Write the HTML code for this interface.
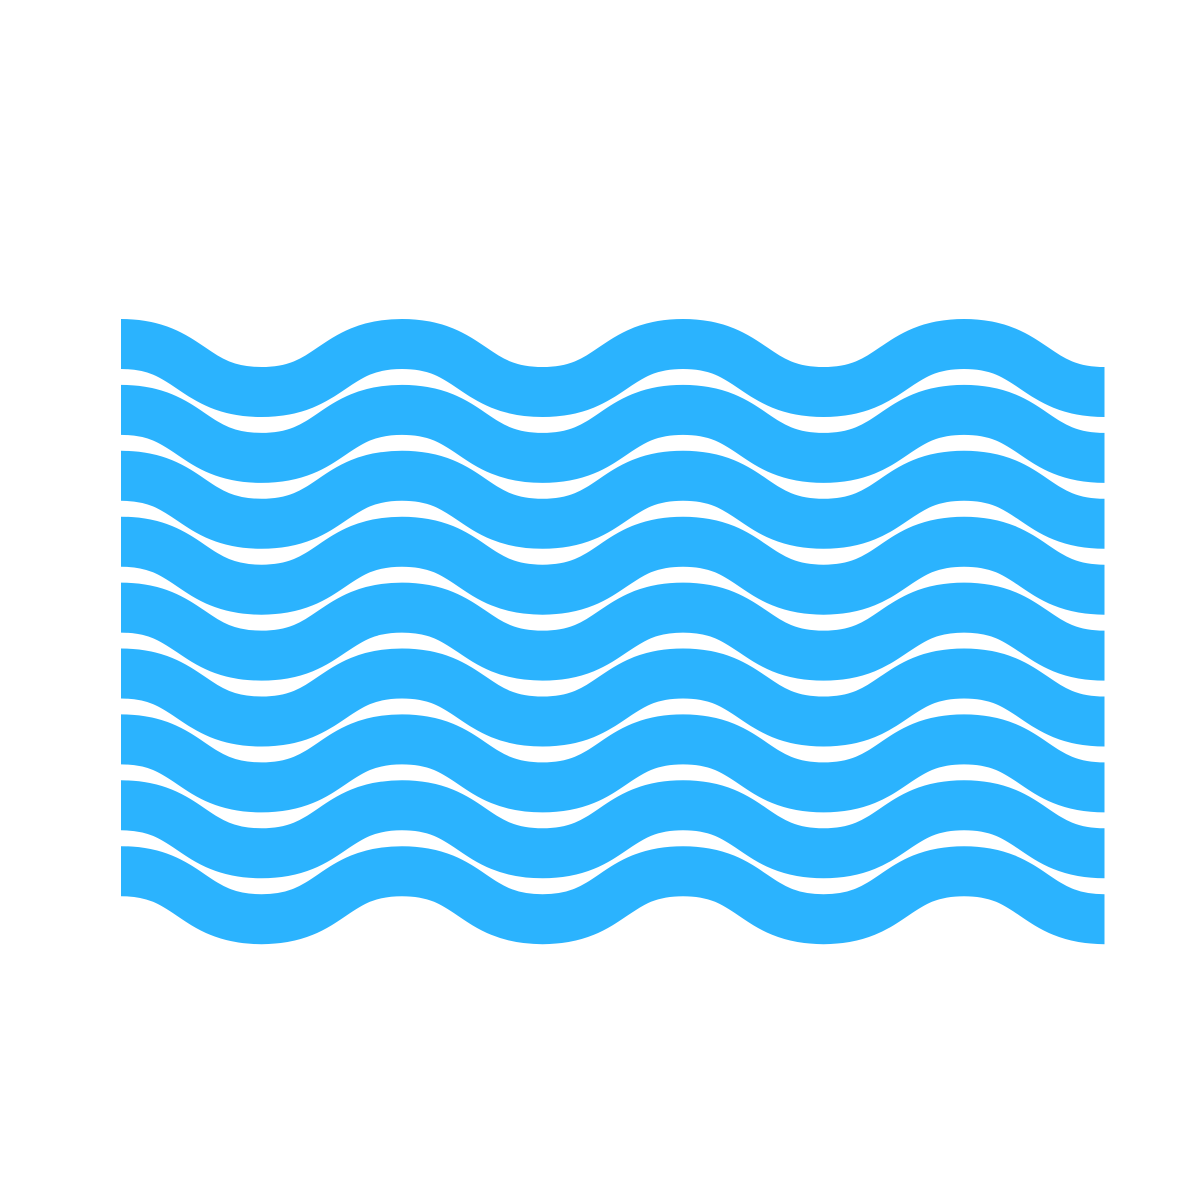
<!DOCTYPE html>
<html><head><meta charset="utf-8"><style>html,body{margin:0;padding:0;background:#fff;width:1200px;height:1200px;overflow:hidden}</style></head>
<body>
<svg width="1200" height="1200" viewBox="0 0 1200 1200" xmlns="http://www.w3.org/2000/svg">
<defs>
<clipPath id="c"><rect x="121" y="0" width="983.5" height="1200"/></clipPath>
<path id="w" fill="none" stroke="#2bb3fe" stroke-width="50" d="M-19.5,73 C51,73 51,25 121,25 C191,25 191,73 261.5,73 C332,73 332,25 402,25 C472,25 472,73 542.5,73 C613,73 613,25 683,25 C753,25 753,73 823.5,73 C894,73 894,25 964,25 C1034,25 1034,73 1104.5,73 C1175,73 1175,25 1245,25"/>
</defs>
<g clip-path="url(#c)">
<use href="#w" transform="translate(0,319)"/>
<use href="#w" transform="translate(0,384.9)"/>
<use href="#w" transform="translate(0,450.8)"/>
<use href="#w" transform="translate(0,516.7)"/>
<use href="#w" transform="translate(0,582.6)"/>
<use href="#w" transform="translate(0,648.5)"/>
<use href="#w" transform="translate(0,714.4)"/>
<use href="#w" transform="translate(0,780.3)"/>
<use href="#w" transform="translate(0,846.2)"/>
</g>
</svg>
</body></html>
